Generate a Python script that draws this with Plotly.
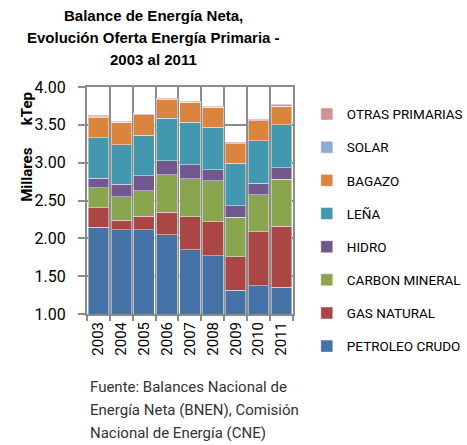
import plotly.graph_objects as go

# datos (miles de kTep)
anios = ["2003", "2004", "2005", "2006", "2007", "2008", "2009", "2010", "2011"]
petroleo = [2.146, 2.114, 2.114, 2.048, 1.849, 1.770, 1.315, 1.372, 1.351]
gas_natural = [0.255, 0.128, 0.181, 0.296, 0.437, 0.450, 0.441, 0.715, 0.812]
carbon = [0.269, 0.305, 0.331, 0.494, 0.503, 0.539, 0.522, 0.490, 0.618]
hidro = [0.125, 0.168, 0.203, 0.190, 0.182, 0.146, 0.154, 0.151, 0.154]
lena = [0.533, 0.525, 0.535, 0.556, 0.565, 0.560, 0.561, 0.565, 0.566]
bagazo = [0.275, 0.291, 0.269, 0.257, 0.260, 0.265, 0.256, 0.261, 0.242]
solar = [0.001, 0.001, 0.001, 0.001, 0.001, 0.001, 0.002, 0.002, 0.003]
otras = [0.020, 0.018, 0.012, 0.012, 0.012, 0.012, 0.019, 0.015, 0.024]

series = [
    ("PETROLEO CRUDO", petroleo, "#4572A7"),
    ("GAS NATURAL", gas_natural, "#AA4643"),
    ("CARBON MINERAL", carbon, "#89A54E"),
    ("HIDRO", hidro, "#71588F"),
    ("LEÑA", lena, "#4198AF"),
    ("BAGAZO", bagazo, "#DB843D"),
    ("SOLAR", solar, "#93A9CF"),
    ("OTRAS PRIMARIAS", otras, "#D19392"),
]

fuente = ["Fuente: Balances Nacional de", "Energía Neta (BNEN), Comisión", "Nacional de Energía (CNE)"]
titulo = ["Balance de Energía Neta,", "Evolución Oferta Energía Primaria -", "2003 al 2011"]

narrow = "Roboto, Lato, sans-serif"
gris = "#8c8c8c"
xs = list(range(len(anios)))

fig = go.Figure()
for i, (nombre, vals, color) in enumerate(series):
    fig.add_trace(go.Bar(
        x=xs, y=vals, name=nombre, legendgroup=nombre, legendrank=100 - i,
        marker=dict(color=color, line=dict(color="rgba(255,255,255,0.45)", width=1)),
    ))

fig.update_layout(
    width=467, height=445,
    barmode="stack", bargap=0.1,
    plot_bgcolor="white", paper_bgcolor="white",
    margin=dict(l=87, r=151, t=87, b=131),
    legend=dict(
        traceorder="grouped", tracegroupgap=12.6, maxheight=1.0,
        x=0.657, xref="container", xanchor="left",
        y=0.778, yref="container", yanchor="top",
        font=dict(family=narrow, size=13.5, color="black"),
        bgcolor="rgba(0,0,0,0)",
    ),
    showlegend=True,
)

fig.update_xaxes(
    range=[-0.5, 8.5],
    tickmode="array", tickvals=xs, ticktext=anios, tickangle=-90,
    ticks="", showgrid=False, zeroline=False,
    showline=True, linecolor=gris, linewidth=2, mirror=True,
    tickfont=dict(family=narrow, size=15, color="black"),
    minor=dict(tickvals=[i - 0.5 for i in range(len(anios) + 1)], showgrid=True,
               gridcolor=gris, gridwidth=2, ticks="outside", ticklen=5,
               tickcolor=gris, tickwidth=2),
)
fig.update_yaxes(
    range=[1.0, 4.0], tickvals=[1.0, 1.5, 2.0, 2.5, 3.0, 3.5, 4.0],
    tickformat=".2f", showgrid=True, gridcolor=gris, gridwidth=2, zeroline=False,
    showline=True, linecolor=gris, linewidth=2, mirror=True,
    ticks="outside", ticklen=7, tickcolor=gris, tickwidth=2, ticklabelstandoff=9,
    tickfont=dict(family=narrow, size=16, color="black"),
)

for texto, yy in zip(titulo, [1.317, 1.216, 1.119]):
    fig.add_annotation(
        text=texto, xref="paper", yref="paper", x=0.323, y=yy,
        xanchor="center", yanchor="middle", showarrow=False,
        font=dict(family="Liberation Sans, Arial, sans-serif", size=15, color="black", weight="bold"),
    )

fig.add_annotation(
    text="<b>Millares&nbsp;&nbsp;&nbsp;&nbsp;&nbsp;&nbsp;kTep</b>", textangle=-90,
    xref="paper", yref="paper", x=-0.293, y=0.735, xanchor="center", yanchor="middle",
    showarrow=False, font=dict(family=narrow, size=15, color="black"),
)
for texto, yy in zip(fuente, [-0.320, -0.423, -0.526]):
    fig.add_annotation(
        text=texto, xref="paper", yref="paper", x=0.004, y=yy,
        xanchor="left", yanchor="middle", showarrow=False,
        font=dict(family=narrow, size=15, color="#333333"),
    )

# quitar el margen por defecto del body para que la figura ocupe toda la ventana
fig.write_html("out.html", config={"displayModeBar": False},
               post_script="document.body.style.margin='0';")
